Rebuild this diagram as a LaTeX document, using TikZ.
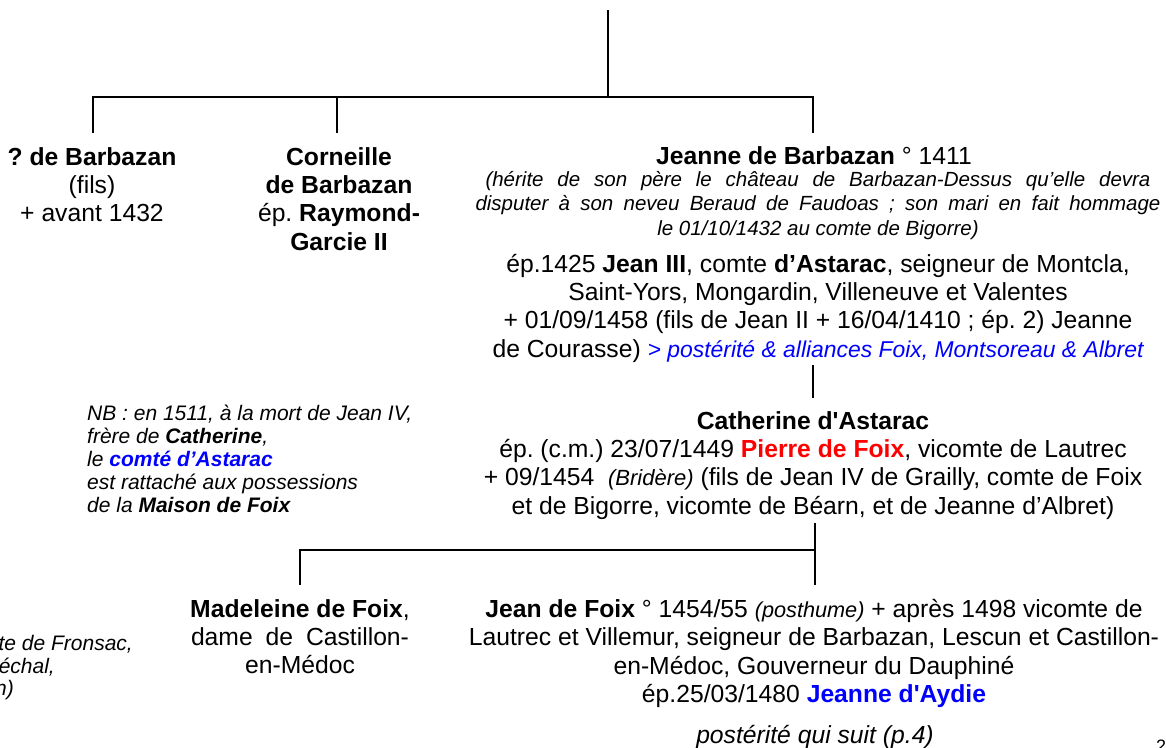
\documentclass[tikz,border=0pt]{standalone}
\usepackage{fontspec}
\setmainfont{Liberation Sans}
\definecolor{pblue}{RGB}{0,0,255}
\definecolor{pred}{RGB}{255,0,0}
\frenchspacing
\begin{document}
\begin{tikzpicture}[x=1pt,y=-1pt,
  reg/.style={font=\fontsize{24.7}{28.3}\selectfont, inner sep=0pt, align=center, anchor=north},
  note/.style={font=\fontsize{20.5}{24.5}\selectfont\itshape, inner sep=0pt, align=center, anchor=north},
  nb/.style={font=\fontsize{21}{23}\selectfont\itshape, inner sep=0pt, align=left, anchor=north west},
  tree/.style={line width=2pt, draw=black}]
\useasboundingbox (0,0) rectangle (1166,747);

% nodes
\node[reg] (qb) at (92,147) {\textbf{? de Barbazan}\\(fils)\\+ avant 1432};
\node[reg] (corn) at (339,147) {\textbf{Corneille}\\\textbf{de Barbazan}\\ép. \textbf{Raymond-}\\\textbf{Garcie II}};
\node[reg] (jeanne) at (814,146) {\textbf{Jeanne de Barbazan} ° 1411};
\node[note] (jnote) at (818,171) {\hbox to 665pt{(hérite de son père le château de Barbazan-Dessus qu’elle devra}\\\hbox to 685pt{disputer à son neveu Beraud de Faudoas ; son mari en fait hommage}\\le 01/10/1432 au comte de Bigorre)};
\node[reg] (jmar) at (818,254) {ép.1425 \textbf{Jean III}, comte \textbf{d’Astarac}, seigneur de Montcla,\\Saint-Yors, Mongardin, Villeneuve et Valentes\\+ 01/09/1458 (fils de Jean II + 16/04/1410 ; ép. 2) Jeanne\\de Courasse) {\color{pblue}\fontsize{22.9}{24}\selectfont\itshape > postérité \& alliances Foix, Montsoreau \& Albret}};

\node[nb] (nb) at (87,405) {NB : en 1511, à la mort de Jean IV,\\frère de \textbf{Catherine},\\le \textcolor{pblue}{\textbf{comté d’Astarac}}\\est rattaché aux possessions\\de la \textbf{Maison de Foix}};

\node[reg] (cath) at (813,411) {\textbf{Catherine d\textquotesingle Astarac}\\ép. (c.m.) 23/07/1449 \textcolor{pred}{\textbf{Pierre de Foix}}, vicomte de Lautrec\\+ 09/1454 \ {\fontsize{22}{24}\selectfont\itshape (Bridère)} (fils de Jean IV de Grailly, comte de Foix\\et de Bigorre, vicomte de Béarn, et de Jeanne d’Albret)};

\node[reg] (made) at (300,599) {\textbf{Madeleine de Foix},\\\hbox to 218pt{dame de Castillon-}\\en-Médoc};
\node[reg] (jeanf) at (814,599) {\textbf{Jean de Foix} ° 1454/55 {\fontsize{21.7}{24}\selectfont\itshape (posthume)} + après 1498 vicomte de\\Lautrec et Villemur, seigneur de Barbazan, Lescun et Castillon-\\en-Médoc, Gouverneur du Dauphiné\\ép.25/03/1480 \textcolor{pblue}{\textbf{Jeanne d\textquotesingle Aydie}}};
\node[reg, font=\fontsize{24.7}{28}\selectfont\itshape] (post) at (815,725) {postérité qui suit (p.4)};

\node[nb, anchor=north east] (fr1) at (133,635) {te de Fronsac,};
\node[nb, anchor=north east] (fr2) at (55,658) {échal,};
\node[nb, anchor=north east] (fr3) at (14,680) {n)};
\node[inner sep=0pt, anchor=north west, font=\fontsize{18}{20}\selectfont] (pg) at (1156,740) {2};

% tree connectors
\coordinate (root) at (608,10);
\coordinate (bar) at (608,97);
\coordinate (b1) at (93,97);
\coordinate (b2) at (337,97);
\coordinate (b3) at (813,97);
\coordinate (e1) at (93,133);
\coordinate (e2) at (337,133);
\coordinate (e3) at (813,133);
\draw[tree] (root) -- (bar);
\draw[tree] (e1) -- (b1) -- (b3) -- (e3);
\draw[tree] (b2) -- (e2);

\coordinate (jc1) at (813,365);
\coordinate (jc2) at (813,398);
\draw[tree] (jc1) -- (jc2);

\coordinate (cb) at (815,523);
\coordinate (cj) at (815,585);
\coordinate (cbar) at (815,550);
\coordinate (mbar) at (300,550);
\coordinate (me) at (300,585);
\draw[tree] (cb) -- (cj);
\draw[tree] (cbar) -- (mbar) -- (me);
\end{tikzpicture}
\end{document}
